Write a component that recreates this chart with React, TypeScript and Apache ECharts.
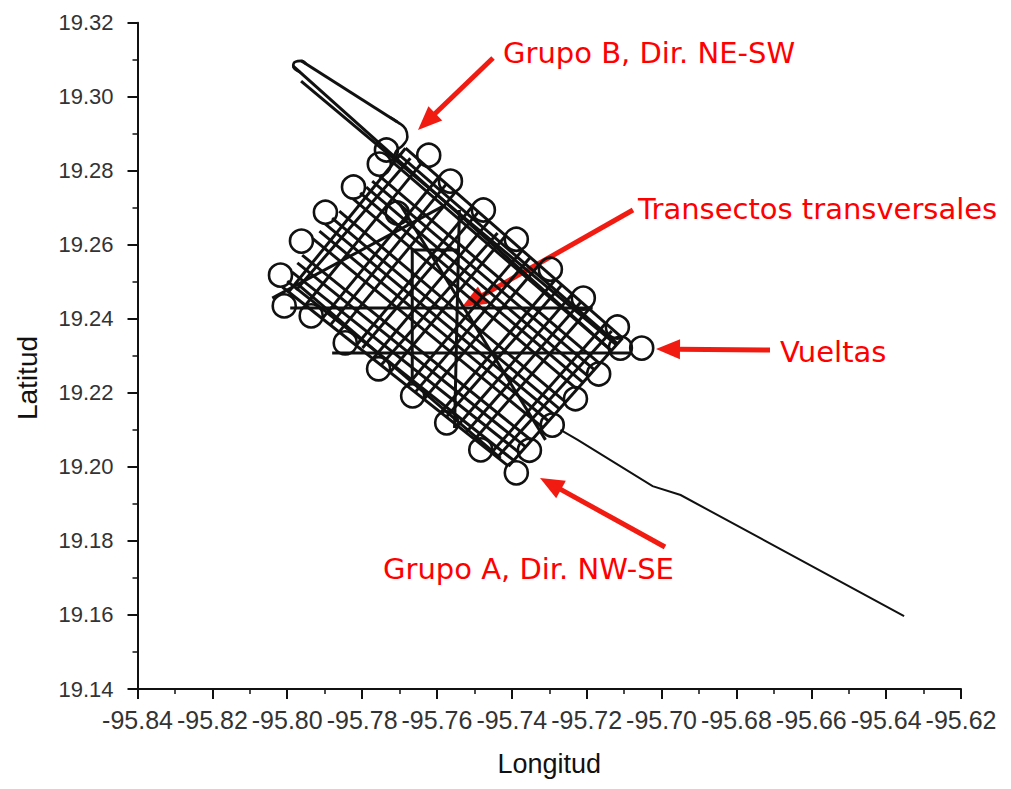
import React, { useEffect, useRef } from "react";
import * as echarts from "echarts";

// Ship track approaching from the SE
const arrivalTrack: number[][] = [
  [-95.6352, 19.1597],
  [-95.6949, 19.1924],
  [-95.7024, 19.1948],
  [-95.7224, 19.2073],
  [-95.727, 19.21],
];

// Hairpin excursion to the NW: rounded tip and rounded return (smoothed)
const hairpinTip: number[][] = [
  [-95.7965, 19.3066],
  [-95.7984, 19.3083],
  [-95.7979, 19.3094],
  [-95.7963, 19.3097],
  [-95.7949, 19.3088],
];
const hairpinReturn: number[][] = [
  [-95.7725, 19.2944],
  [-95.7706, 19.2932],
  [-95.7684, 19.2913],
  [-95.7679, 19.2891],
  [-95.769, 19.287],
  [-95.7709, 19.2853],
  [-95.7719, 19.2824],
];

// Straight legs of the excursion: [lon1, lat1, lon2, lat2]
const northLegs: number[][] = [
  [-95.7963, 19.3097, -95.7706, 19.2932],
  [-95.7984, 19.3083, -95.7134, 19.2314],
  [-95.7963, 19.3042, -95.712, 19.2329],
];

// Grupo A transects, NW end -> SE end: [lon1, lat1, lon2, lat2]
const groupA: number[][] = [
  [-95.8013, 19.2486, -95.7409, 19.2002],
  [-95.8, 19.2502, -95.7393, 19.2016],
  [-95.7976, 19.2497, -95.743, 19.2024],
  [-95.7987, 19.2526, -95.7378, 19.2037],
  [-95.7973, 19.2551, -95.7363, 19.2054],
  [-95.796, 19.2572, -95.7348, 19.2072],
  [-95.7931, 19.2616, -95.7317, 19.2106],
  [-95.7914, 19.2637, -95.7302, 19.2124],
  [-95.7898, 19.2656, -95.7287, 19.2141],
  [-95.788, 19.2672, -95.7272, 19.2156],
  [-95.7861, 19.2691, -95.7256, 19.2175],
  [-95.7824, 19.2724, -95.7226, 19.221],
  [-95.7805, 19.274, -95.7211, 19.2229],
  [-95.7789, 19.2756, -95.7195, 19.2244],
  [-95.7773, 19.2772, -95.7179, 19.2262],
  [-95.7754, 19.2786, -95.7165, 19.2279],
  [-95.7719, 19.2824, -95.7134, 19.2314],
  [-95.7703, 19.2845, -95.7117, 19.2332],
  [-95.7684, 19.2861, -95.7104, 19.2348],
];

// Grupo B transects, SW end -> NE end: [lon1, lat1, lon2, lat2]
const groupB: number[][] = [
  [-95.7997, 19.2472, -95.7684, 19.2861],
  [-95.7976, 19.2478, -95.7671, 19.2834],
  [-95.7952, 19.2436, -95.764, 19.2822],
  [-95.7907, 19.24, -95.7595, 19.2783],
  [-95.7885, 19.2383, -95.7575, 19.2764],
  [-95.7862, 19.2364, -95.755, 19.2743],
  [-95.7816, 19.2328, -95.7506, 19.2703],
  [-95.7799, 19.2321, -95.7489, 19.2689],
  [-95.7771, 19.2292, -95.7461, 19.2664],
  [-95.7749, 19.2275, -95.7438, 19.2632],
  [-95.7726, 19.2255, -95.7416, 19.2625],
  [-95.768, 19.2219, -95.7372, 19.2585],
  [-95.7658, 19.2202, -95.735, 19.2567],
  [-95.7635, 19.2183, -95.7327, 19.2546],
  [-95.759, 19.2147, -95.7283, 19.2506],
  [-95.7575, 19.2135, -95.7267, 19.2491],
  [-95.7545, 19.2111, -95.7238, 19.2467],
  [-95.7521, 19.2094, -95.7216, 19.2445],
  [-95.7499, 19.2075, -95.7193, 19.2427],
  [-95.7454, 19.2039, -95.7149, 19.2388],
  [-95.7438, 19.2027, -95.7133, 19.2367],
  [-95.7409, 19.2002, -95.7104, 19.2348],
];

// Cross transects (polylines of [lon, lat])
const crossTransects: number[][][] = [
  [[-95.7992, 19.2429], [-95.7184, 19.2429]],
  [[-95.788, 19.2308], [-95.7083, 19.2308]],
  [[-95.7666, 19.2235], [-95.7666, 19.2586], [-95.754, 19.2586]],
  [[-95.754, 19.2694], [-95.7553, 19.2105]],
  [[-95.804, 19.2456], [-95.7577, 19.2708]],
  [[-95.7698, 19.2708], [-95.731, 19.2073]],
];

// Turn loops ("vueltas"), centre of each loop
const turnLoops: number[][] = [
  // NW side
  [-95.8018, 19.2518], [-95.7962, 19.261], [-95.7898, 19.2688],
  [-95.7823, 19.2756], [-95.7754, 19.2818], [-95.7735, 19.2856],
  // SE side
  [-95.7353, 19.2045], [-95.7292, 19.2113], [-95.723, 19.2184],
  [-95.7168, 19.2251], [-95.711, 19.2321], [-95.7388, 19.1984],
  [-95.7053, 19.2321],
  // SW side
  [-95.7936, 19.2408], [-95.7845, 19.2335], [-95.7756, 19.2265],
  [-95.7665, 19.2192], [-95.7574, 19.2119], [-95.7483, 19.2046],
  [-95.8008, 19.2435],
  // NE side
  [-95.7622, 19.2842], [-95.7564, 19.2772], [-95.7476, 19.2694],
  [-95.7388, 19.2615], [-95.7297, 19.2534], [-95.7209, 19.2456],
  [-95.7118, 19.2378],
  // interior
  [-95.7706, 19.2686],
];

const TRACK = "#111";
const RED = "#f21b12";
const TEXT_RED = "#ff0000";

const segment = (r: number[]) => ({ coords: [[r[0], r[1]], [r[2], r[3]]] });

function arrow(x1: number, y1: number, x2: number, y2: number) {
  const dx = x2 - x1;
  const dy = y2 - y1;
  const len = Math.hypot(dx, dy);
  const ux = dx / len;
  const uy = dy / len;
  const hl = 24;
  const hw = 10;
  const bx = x2 - ux * hl;
  const by = y2 - uy * hl;
  return [
    {
      type: "line",
      shape: { x1, y1, x2: bx + ux * 2, y2: by + uy * 2 },
      style: { stroke: RED, lineWidth: 5 },
    },
    {
      type: "polygon",
      shape: {
        points: [
          [x2, y2],
          [bx - uy * hw, by + ux * hw],
          [bx + uy * hw, by - ux * hw],
        ],
      },
      style: { fill: RED },
    },
  ];
}

function label(text: string, x: number, y: number) {
  return {
    type: "text",
    x,
    y,
    style: {
      text,
      fontSize: 29,
      fontFamily: "DejaVu Sans",
      fill: TEXT_RED,
      align: "left",
      verticalAlign: "middle",
    },
  };
}

const smoothPiece = (data: number[][]) => ({
  type: "line",
  data,
  smooth: 0.5,
  symbol: "none",
  silent: true,
  lineStyle: { color: TRACK, width: 2.6, opacity: 1 },
});

export default function App() {
  const ref = useRef<HTMLDivElement>(null);

  useEffect(() => {
    if (!ref.current) return;
    const chart = echarts.init(ref.current, undefined, { renderer: "svg" });

    const surveyLegs = [
      ...northLegs.map(segment),
      ...groupA.map(segment),
      ...groupB.map(segment),
      ...crossTransects.map((c) => ({ coords: c })),
    ];

    const axisCommon = {
      type: "value",
      splitLine: { show: false },
      axisLine: { show: true, onZero: false, lineStyle: { color: "#111", width: 2 } },
      axisTick: { show: true, length: 10, lineStyle: { color: "#111", width: 2 } },
      minorTick: { show: true, splitNumber: 2, length: 5, lineStyle: { color: "#111", width: 1.5 } },
    };

    chart.setOption({
      animation: false,
      backgroundColor: "#ffffff",
      grid: { left: 137.5, right: 50, top: 22.7, bottom: 100 },
      xAxis: {
        ...axisCommon,
        min: -95.84,
        max: -95.62,
        interval: 0.02,
        axisLabel: {
          formatter: (v: number) => v.toFixed(2),
          fontFamily: "Liberation Sans",
          fontSize: 25,
          color: "#333",
          margin: 18,
        },
        name: "Longitud",
        nameLocation: "middle",
        nameGap: 61,
        nameTextStyle: { fontFamily: "Liberation Sans", fontSize: 27, color: "#111" },
      },
      yAxis: {
        ...axisCommon,
        min: 19.14,
        max: 19.32,
        interval: 0.02,
        axisLabel: {
          formatter: (v: number) => v.toFixed(2),
          fontFamily: "Liberation Sans",
          fontSize: 22,
          color: "#333",
          margin: 24,
        },
      },
      series: [
        {
          type: "lines",
          coordinateSystem: "cartesian2d",
          polyline: true,
          silent: true,
          lineStyle: { color: TRACK, width: 3, opacity: 1 },
          data: surveyLegs,
        },
        {
          type: "lines",
          coordinateSystem: "cartesian2d",
          polyline: true,
          silent: true,
          lineStyle: { color: TRACK, width: 2, opacity: 1 },
          data: [{ coords: arrivalTrack }],
        },
        smoothPiece(hairpinTip),
        smoothPiece(hairpinReturn),
        {
          type: "scatter",
          data: turnLoops,
          symbol: "circle",
          symbolSize: 23,
          silent: true,
          itemStyle: {
            color: "rgba(0,0,0,0)",
            borderColor: TRACK,
            borderWidth: 2.6,
            opacity: 1,
          },
        },
      ],
      graphic: [
        {
          type: "text",
          x: 27,
          y: 378,
          rotation: Math.PI / 2,
          style: {
            text: "Latitud",
            fontSize: 28,
            fontFamily: "Liberation Sans",
            fill: "#111",
            align: "center",
            verticalAlign: "middle",
          },
        },
        label("Grupo B, Dir. NE-SW", 503, 53),
        label("Transectos transversales", 638, 209),
        label("Vueltas", 780, 352),
        label("Grupo A, Dir. NW-SE", 383, 569),
        ...arrow(493, 58, 418, 130),
        ...arrow(633, 210, 462, 307),
        ...arrow(770, 350, 656, 349),
        ...arrow(665, 547, 540, 478),
      ],
    });

    return () => chart.dispose();
  }, []);

  return (
    <div
      ref={ref}
      style={{ position: "absolute", left: 0, top: 0, width: 1011, height: 789 }}
    />
  );
}
